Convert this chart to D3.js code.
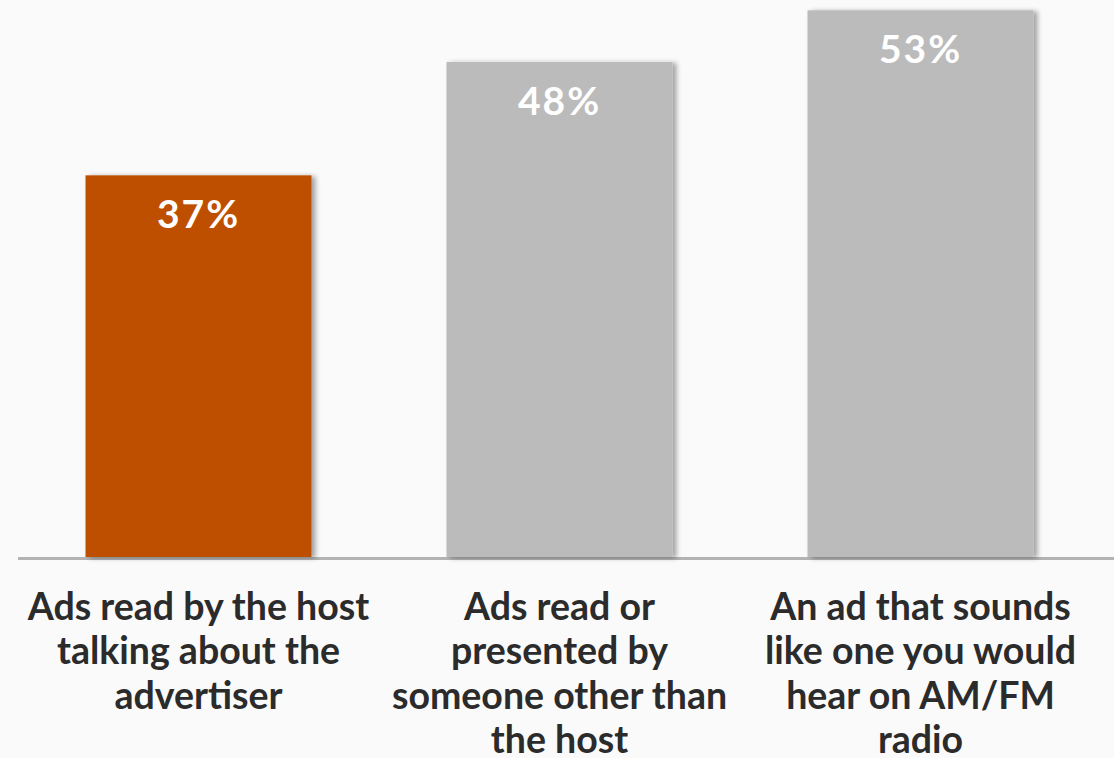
<!DOCTYPE html>
<html><head><meta charset="utf-8">
<script src="https://cdn.jsdelivr.net/npm/d3@7"></script>
<style>body{margin:0;background:#fafafa;}svg{display:block;}</style>
</head><body>
<svg id="c" width="1114" height="758"></svg>
<script>
const categories = [
  ["Ads read by the host","talking about the","advertiser"],
  ["Ads read or","presented by","someone other than","the host"],
  ["An ad that sounds","like one you would","hear on AM/FM","radio"]
];
const values = [37, 48, 53];
const colors = ["#bf4f00", "#bbbbbb", "#bbbbbb"];

const svg = d3.select("#c");
const W = 1114, H = 758, base = 557;
svg.append("rect").attr("width", W).attr("height", H).attr("fill", "#fafafa");

const defs = svg.append("defs");
const f = defs.append("filter").attr("id","sh").attr("x","-10%").attr("y","-10%").attr("width","130%").attr("height","120%");
f.append("feDropShadow").attr("dx",4).attr("dy",1).attr("stdDeviation",2.5).attr("flood-color","#000").attr("flood-opacity",0.35);

const x = d3.scaleBand().domain(d3.range(values.length)).range([18, 1101]).paddingInner(0.374).paddingOuter(0.187);
const y = d3.scaleLinear().domain([0, 54]).range([base, 0]);

svg.append("line").attr("x1",18).attr("x2",W).attr("y1",base+1.5).attr("y2",base+1.5)
  .attr("stroke","#b3b3b3").attr("stroke-width",3);

svg.selectAll("rect.bar").data(values).join("rect").attr("class","bar")
  .attr("x",(d,i)=>x(i)).attr("width",x.bandwidth())
  .attr("y",d=>y(d)).attr("height",d=>base-y(d))
  .attr("fill",(d,i)=>colors[i]).attr("filter","url(#sh)");

svg.selectAll("text.val").data(values).join("text").attr("class","val")
  .attr("x",(d,i)=>x(i)+x.bandwidth()/2).attr("y",d=>y(d)+53)
  .attr("text-anchor","middle").attr("fill","#ffffff")
  .style("font-family","Lato, sans-serif").style("font-weight","700").style("font-size","39px")
  .style("letter-spacing","2px")
  .text(d=>d+"%");

categories.forEach((lines,i)=>{
  const t = svg.append("text").attr("text-anchor","middle")
    .attr("fill","#2b2b2b").style("font-family","Lato, sans-serif").style("font-weight","700").style("font-size","37.5px");
  lines.forEach((l,j)=>{
    t.append("tspan").attr("x",x(i)+x.bandwidth()/2).attr("y",619.5+j*44.5).text(l);
  });
});
</script>
</body></html>
